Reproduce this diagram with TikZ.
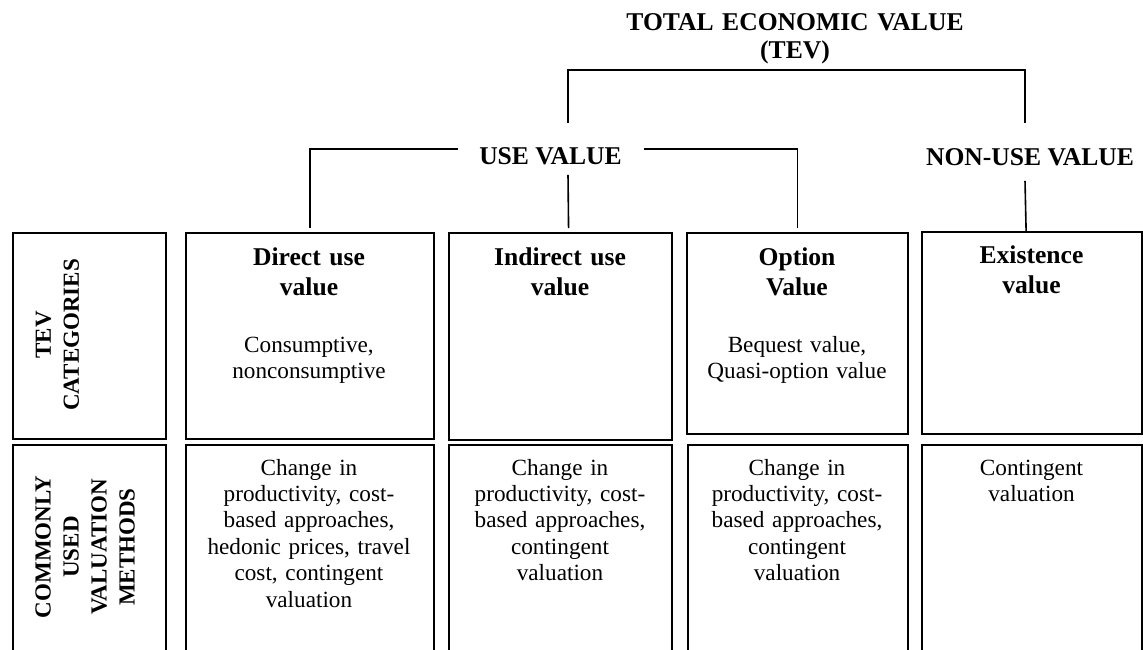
\documentclass[tikz,border=0pt]{standalone}
\usepackage{fontspec}
\setmainfont{Liberation Serif}
\usetikzlibrary{positioning}

\tikzset{
  cell/.style={draw, line width=1.1pt, inner sep=0pt, anchor=north west},
  head/.style={font=\bfseries\fontsize{12.8}{15}\selectfont, align=center, inner sep=0pt},
  body/.style={font=\fontsize{11.6}{13.2}\selectfont, align=center, inner sep=0pt, anchor=base},
  side/.style={font=\bfseries\fontsize{11.5}{14}\selectfont, align=center, rotate=90, inner sep=0pt},
  link/.style={line width=0.8pt},
}

\begin{document}
\begin{tikzpicture}[x=0.5pt, y=-0.5pt]
  \useasboundingbox (0,0) rectangle (1143,649);
  \clip (0,0) rectangle (1143,649);

  % headings
  \node[head, anchor=base, text width=200pt, font=\bfseries\fontsize{12.8}{14}\selectfont]
    (tev) at (795,30) {TOTAL ECONOMIC VALUE\\(TEV)};
  \node[head, anchor=base] (use) at (550.5,164) {USE VALUE};
  \node[head, anchor=base] (nonuse) at (1030,165) {NON-USE VALUE};

  % row of categories
  \node[cell, minimum width=76.5pt, minimum height=103pt] (lab1) at (12,232) {};
  \node[cell, minimum width=124pt, minimum height=103pt] (direct) at (185,232) {};
  \node[cell, minimum width=111.5pt, minimum height=103.5pt] (indirect) at (448,232) {};
  \node[cell, minimum width=110.5pt, minimum height=100.5pt] (option) at (686,232) {};
  \node[cell, minimum width=110pt, minimum height=101pt] (exist) at (921,231) {};

  % row of methods (open at the foot)
  \node[cell, minimum width=76.5pt, minimum height=110pt] (lab2) at (12,444) {};
  \node[cell, minimum width=124pt, minimum height=110pt] (dmeth) at (185,444) {};
  \node[cell, minimum width=111.5pt, minimum height=110pt] (imeth) at (448,444) {};
  \node[cell, minimum width=110pt, minimum height=110pt] (ometh) at (687,444) {};
  \node[cell, minimum width=110pt, minimum height=110pt] (emeth) at (921,444) {};

  % side labels
  \node[side] (labt1) at (57.5,335) {TEV\\CATEGORIES};
  \node[side] (labt2) at (85,547) {COMMONLY\\USED\\VALUATION\\METHODS};

  % texts of the categories
  \node[head, anchor=base, text width=115pt] (directt) at (309,265) {Direct use\\value};
  \node[body, text width=115pt] (directb) at (309,352) {Consumptive,\\nonconsumptive};
  \node[head, anchor=base, text width=105pt] (indirectt) at (560,265) {Indirect use\\value};
  \node[head, anchor=base, text width=105pt] (optiont) at (797,265) {Option\\Value};
  \node[body, text width=105pt] (optionb) at (797,352) {Bequest value,\\Quasi-option value};
  \node[head, anchor=base, text width=105pt] (existt) at (1031.5,263) {Existence\\value};

  % texts of the methods
  \node[body, text width=115pt] (dmetht) at (309,475)
    {Change in\\productivity, cost-\\based approaches,\\hedonic prices, travel\\cost, contingent\\valuation};
  \node[body, text width=105pt] (imetht) at (560,475)
    {Change in\\productivity, cost-\\based approaches,\\contingent\\valuation};
  \node[body, text width=105pt] (ometht) at (797,475)
    {Change in\\productivity, cost-\\based approaches,\\contingent\\valuation};
  \node[body, text width=105pt] (emetht) at (1031.5,475) {Contingent\\valuation};

  % connectors
  \draw[link] ([shift={(17.5,-24)}]use.north) |- ([yshift=-3.2pt]tev.south)
    -| ([shift={(-5,-25)}]nonuse.north);
  \draw[link] ([shift={(-5,15)}]nonuse.south) -- ([xshift=-3pt]exist.north);
  \draw[link, shorten >=2pt] ([shift={(-21,-6.5)}]use.west) -| (direct.north);
  \draw[link, shorten >=2pt] ([shift={(22,-6.5)}]use.east) -| (option.north);
  \draw[link, shorten >=2pt] ([shift={(17.5,10)}]use.south) -- ([xshift=4pt]indirect.north);
\end{tikzpicture}
\end{document}
